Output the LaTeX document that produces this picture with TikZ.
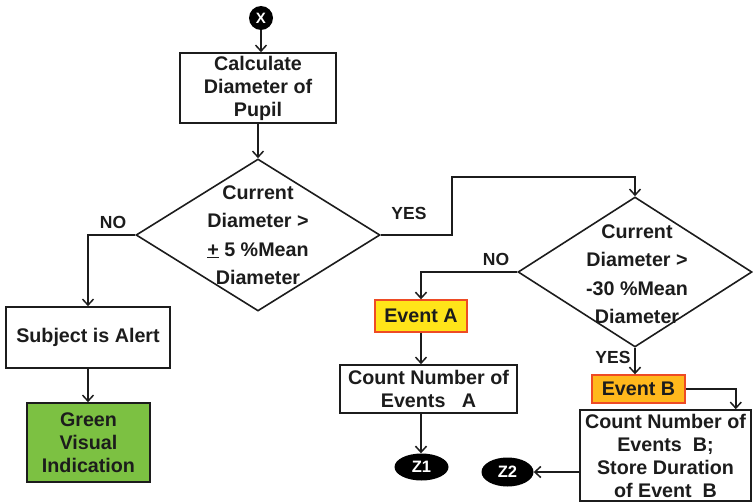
\documentclass[tikz,border=0pt]{standalone}
\usepackage{fontspec}
\setmainfont{Liberation Sans}
\usetikzlibrary{arrows.meta,shapes.geometric}
\definecolor{ink}{HTML}{1C1C1C}
\definecolor{alertgreen}{HTML}{7CC142}
\definecolor{eventyellow}{HTML}{FFE419}
\definecolor{eventorange}{HTML}{FFB81C}
\definecolor{eventedge}{HTML}{EE4B24}
\begin{document}
\begin{tikzpicture}[x=1pt,y=-1pt,
  every node/.style={font=\bfseries\fontsize{19.7}{23}\selectfont, text=ink},
  box/.style={draw=ink, line width=1.6pt, fill=white, align=center, inner sep=0pt},
  decision/.style={draw=ink, line width=1.6pt, shape=diamond, inner sep=0pt},
  dtext/.style={align=center, font=\bfseries\fontsize{19.7}{28.5}\selectfont},
  eventbox/.style={draw=eventedge, line width=1.4pt, align=center, inner sep=0pt},
  terminal/.style={ellipse, fill=black, inner sep=0pt, text=white,
    font=\bfseries\fontsize{16.5}{18}\selectfont},
  flow/.style={draw=ink, line width=1.6pt,
    -{Straight Barb[length=6pt,width=11pt,line width=1.5pt]}},
  branch/.style={font=\bfseries\fontsize{17.5}{20}\selectfont}]

\useasboundingbox (0,0) rectangle (753,503);

% start connector
\node[terminal, circle, minimum size=24pt, font=\bfseries\fontsize{15}{16}\selectfont] (start) at (261,18) {X};

% measurement step
\node[box, minimum width=156pt, minimum height=70pt] (calc) at (258,88)
  {Calculate\\Diameter of\\Pupil};

% first decision
\node[decision, minimum width=244pt, minimum height=152pt] (d1) at (258,235) {};
\node[dtext] (d1text) at (258,235)
  {Current\\Diameter >\\\underline{+} 5 \%Mean\\Diameter};

% alert branch
\node[box, minimum width=164pt, minimum height=61pt] (alert) at (88,337.5) {Subject is Alert};
\node[box, fill=alertgreen, minimum width=123pt, minimum height=79pt] (green) at (88.5,442.5)
  {Green\\Visual\\Indication};

% second decision
\node[decision, minimum width=234pt, minimum height=150pt] (d2) at (635,272) {};
\node[dtext] (d2text) at (637,274)
  {Current\\Diameter >\\-30 \%Mean\\Diameter};

% event A branch
\node[eventbox, fill=eventyellow, minimum width=92pt, minimum height=32pt] (evA) at (421,316) {Event A};
\node[box, minimum width=177pt, minimum height=48pt] (cntA) at (428.5,389)
  {Count Number of\\Events\ \ \ A};
\node[terminal, minimum width=54pt, minimum height=27pt] (z1) at (421.5,467) {Z1};

% event B branch
\node[eventbox, fill=eventorange, minimum width=93pt, minimum height=28pt] (evB) at (638.5,389) {Event B};
\node[box, minimum width=171pt, minimum height=91pt] (cntB) at (665.5,455.5)
  {Count Number of\\Events\ \ B;\\Store Duration\\of Event\ \ B};
\node[terminal, minimum width=52pt, minimum height=29pt] (z2) at (507.5,472) {Z2};

\coordinate (yesturn) at (452,177);

% connectors
\draw[flow] (start) -- (start |- calc.north);
\draw[flow] (calc.south) -- (d1.north);
\draw[flow] (d1.west) -| (alert.north);
\draw[flow] (alert.south) -- (alert.south |- green.north);
\draw[flow] (d1.east) -| (yesturn) -| (d2.north);
\draw[flow] (d2.west) -| (evA.north);
\draw[flow] (evA.south) -- (evA.south |- cntA.north);
\draw[flow] (evA.south |- cntA.south) -- (evA.south |- z1.north);
\draw[flow] (d2.south) -- (d2.south |- evB.north);
\draw[flow] (evB.east) -| ([xshift=-16pt]cntB.north east);
\draw[flow] (cntB.west |- z2.east) -- (z2.east);

% branch labels
\node[branch] (no1) at (113,222) {NO};
\node[branch] (yes1) at (409,213) {YES};
\node[branch] (no2) at (496,259) {NO};
\node[branch] (yes2) at (613,357) {YES};
\end{tikzpicture}
\end{document}
